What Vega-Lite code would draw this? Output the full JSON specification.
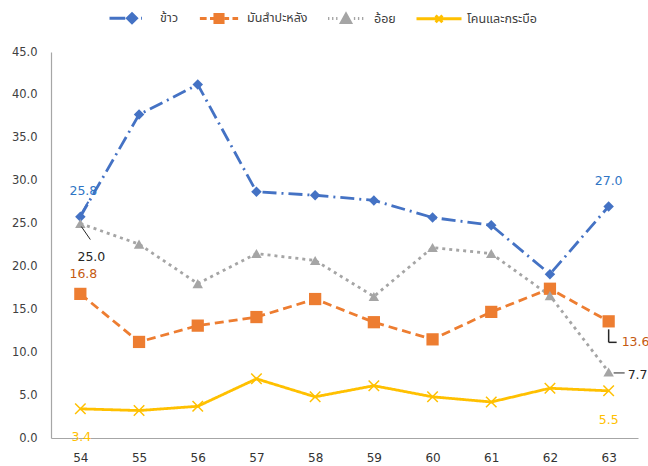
{
  "$schema": "https://vega.github.io/schema/vega-lite/v6.json",
  "autosize": {"type": "none"},
  "width": 587,
  "height": 386,
  "padding": {"left": 51, "top": 52, "right": 10, "bottom": 28},
  "background": "white",
  "config": {
    "view": {"stroke": null},
    "font": "Noto Sans Thai, Noto Sans, DejaVu Sans",
    "axis": {"grid": false, "ticks": false, "domainColor": "#A6A6A6", "domainWidth": 1.2, "labelColor": "#404040", "labelFont": "DejaVu Sans", "labelFontSize": 11.5, "title": null},
    "legend": {"orient": "none", "direction": "horizontal", "legendX": 57, "legendY": -58, "title": null, "symbolSize": 2025, "symbolOpacity": 1, "symbolStrokeWidth": 3, "labelFontSize": 12.5, "labelColor": "#404040", "labelOffset": 4, "columnPadding": 14, "padding": 0}
  },
  "data": {
    "values": [
      {"series": "ข้าว", "year": "54", "value": 25.8},
      {"series": "ข้าว", "year": "55", "value": 37.7},
      {"series": "ข้าว", "year": "56", "value": 41.2},
      {"series": "ข้าว", "year": "57", "value": 28.7},
      {"series": "ข้าว", "year": "58", "value": 28.3},
      {"series": "ข้าว", "year": "59", "value": 27.7},
      {"series": "ข้าว", "year": "60", "value": 25.7},
      {"series": "ข้าว", "year": "61", "value": 24.8},
      {"series": "ข้าว", "year": "62", "value": 19.1},
      {"series": "ข้าว", "year": "63", "value": 27.0},
      {"series": "มันสำปะหลัง", "year": "54", "value": 16.8},
      {"series": "มันสำปะหลัง", "year": "55", "value": 11.2},
      {"series": "มันสำปะหลัง", "year": "56", "value": 13.1},
      {"series": "มันสำปะหลัง", "year": "57", "value": 14.1},
      {"series": "มันสำปะหลัง", "year": "58", "value": 16.2},
      {"series": "มันสำปะหลัง", "year": "59", "value": 13.5},
      {"series": "มันสำปะหลัง", "year": "60", "value": 11.5},
      {"series": "มันสำปะหลัง", "year": "61", "value": 14.7},
      {"series": "มันสำปะหลัง", "year": "62", "value": 17.4},
      {"series": "มันสำปะหลัง", "year": "63", "value": 13.6},
      {"series": "อ้อย", "year": "54", "value": 25.0},
      {"series": "อ้อย", "year": "55", "value": 22.6},
      {"series": "อ้อย", "year": "56", "value": 18.0},
      {"series": "อ้อย", "year": "57", "value": 21.5},
      {"series": "อ้อย", "year": "58", "value": 20.7},
      {"series": "อ้อย", "year": "59", "value": 16.5},
      {"series": "อ้อย", "year": "60", "value": 22.2},
      {"series": "อ้อย", "year": "61", "value": 21.5},
      {"series": "อ้อย", "year": "62", "value": 16.6},
      {"series": "อ้อย", "year": "63", "value": 7.7},
      {"series": "โคนและกระบือ", "year": "54", "value": 3.4},
      {"series": "โคนและกระบือ", "year": "55", "value": 3.2},
      {"series": "โคนและกระบือ", "year": "56", "value": 3.7},
      {"series": "โคนและกระบือ", "year": "57", "value": 6.9},
      {"series": "โคนและกระบือ", "year": "58", "value": 4.8},
      {"series": "โคนและกระบือ", "year": "59", "value": 6.1},
      {"series": "โคนและกระบือ", "year": "60", "value": 4.8},
      {"series": "โคนและกระบือ", "year": "61", "value": 4.2},
      {"series": "โคนและกระบือ", "year": "62", "value": 5.8},
      {"series": "โคนและกระบือ", "year": "63", "value": 5.5}
    ]
  },
  "encoding": {
    "x": {"field": "year", "type": "ordinal", "scale": {"type": "point", "padding": 0.5}, "axis": {"labelAngle": 0, "labelPadding": 14, "labelFontSize": 12, "labelColor": "#333333"}},
    "y": {"field": "value", "type": "quantitative", "scale": {"domain": [0, 45], "nice": false}, "axis": {"values": [0, 5, 10, 15, 20, 25, 30, 35, 40, 45], "format": ".1f", "labelPadding": 14}}
  },
  "layer": [
    {
      "mark": {"type": "line"},
      "encoding": {
        "color": {"field": "series", "type": "nominal", "scale": {"range": ["#4472C4", "#ED7D31", "#A5A5A5", "#FFC000"]}, "legend": null},
        "strokeDash": {"field": "series", "type": "nominal", "scale": {"range": [[14, 5, 2, 5], [9, 5], [3, 4], [1, 0]]}, "legend": null},
        "strokeWidth": {"field": "series", "type": "nominal", "scale": {"range": [2.8, 2.8, 2.8, 3.2]}, "legend": null}
      }
    },
    {
      "transform": [{"filter": "datum.series === 'ข้าว'"}],
      "mark": {"type": "point", "filled": true, "opacity": 1, "size": 110, "shape": "diamond", "color": "#4472C4"},
      "encoding": {}
    },
    {
      "transform": [{"filter": "datum.series === 'มันสำปะหลัง'"}],
      "mark": {"type": "point", "filled": true, "opacity": 1, "size": 150, "shape": "square", "color": "#ED7D31"},
      "encoding": {}
    },
    {
      "transform": [{"filter": "datum.series === 'อ้อย'"}],
      "mark": {"type": "point", "filled": true, "opacity": 1, "size": 110, "shape": "triangle-up", "color": "#A5A5A5"},
      "encoding": {}
    },
    {
      "transform": [{"filter": "datum.series === 'โคนและกระบือ'"}],
      "mark": {"type": "point", "filled": false, "opacity": 1, "size": 110, "shape": "M-1,-1L1,1M-1,1L1,-1", "strokeWidth": 1.5, "color": "#FFC000"},
      "encoding": {}
    },
    {
      "transform": [{"filter": "datum.value < 0"}],
      "mark": {"type": "point", "filled": true, "strokeWidth": 3, "opacity": 1},
      "encoding": {
        "shape": {"field": "series", "type": "nominal", "scale": {"domain": ["ข้าว", "มันสำปะหลัง", "อ้อย", "โคนและกระบือ"], "range": [
          "M-1,0H-0.3M-0.2,0H-0.18M0,-0.2L0.2,0L0,0.2L-0.2,0ZM0.4,0H0.44",
          "M-0.85,0H-0.55M-0.4,0H-0.2M-0.18,-0.18H0.18V0.18H-0.18ZM0.25,0H0.45M0.6,0H0.85",
          "M-0.8,0H-0.74M-0.62,0H-0.56M-0.44,0H-0.38M-0.2,0.17L0,-0.19L0.2,0.17ZM0.35,0H0.41M0.53,0H0.59M0.71,0H0.77",
          "M-1,0H1M-0.15,-0.15L0.15,0.15M-0.15,0.15L0.15,-0.15"
        ]}},
        "fill": {"field": "series", "type": "nominal", "scale": {"domain": ["ข้าว", "มันสำปะหลัง", "อ้อย", "โคนและกระบือ"], "range": ["#4472C4", "#ED7D31", "#A5A5A5", "#FFC000"]}},
        "stroke": {"field": "series", "type": "nominal", "scale": {"domain": ["ข้าว", "มันสำปะหลัง", "อ้อย", "โคนและกระบือ"], "range": ["#4472C4", "#ED7D31", "#A5A5A5", "#FFC000"]}}
      }
    },
    {
      "transform": [{"filter": "datum.series === 'ข้าว' && datum.year === '54'"}],
      "mark": {"type": "rule", "color": "#4472C4", "strokeWidth": 2, "xOffset": 1, "x2Offset": 8, "yOffset": -3, "y2Offset": -15},
      "encoding": {"x2": {"field": "year"}, "y2": {"field": "value"}}
    },
    {
      "transform": [{"filter": "datum.series === 'อ้อย' && datum.year === '54'"}],
      "mark": {"type": "rule", "color": "#262626", "strokeWidth": 1, "xOffset": 1, "x2Offset": 10, "yOffset": 3, "y2Offset": 16},
      "encoding": {"x2": {"field": "year"}, "y2": {"field": "value"}}
    },
    {
      "transform": [{"filter": "datum.series === 'มันสำปะหลัง' && datum.year === '63'"}],
      "mark": {"type": "rule", "color": "#262626", "strokeWidth": 1.5, "xOffset": 0, "x2Offset": 0, "yOffset": 8, "y2Offset": 21},
      "encoding": {"x2": {"field": "year"}, "y2": {"field": "value"}}
    },
    {
      "transform": [{"filter": "datum.series === 'มันสำปะหลัง' && datum.year === '63'"}],
      "mark": {"type": "rule", "color": "#262626", "strokeWidth": 1.5, "xOffset": 0, "x2Offset": 8, "yOffset": 21, "y2Offset": 21},
      "encoding": {"x2": {"field": "year"}, "y2": {"field": "value"}}
    },
    {
      "transform": [{"filter": "datum.series === 'อ้อย' && datum.year === '63'"}],
      "mark": {"type": "rule", "color": "#262626", "strokeWidth": 1, "xOffset": 5, "x2Offset": 16, "yOffset": 1, "y2Offset": 1},
      "encoding": {"x2": {"field": "year"}, "y2": {"field": "value"}}
    },
    {
      "transform": [{"filter": "datum.series === 'ข้าว' && datum.year === '54'"}],
      "mark": {"type": "text", "color": "#2F75C5", "font": "DejaVu Sans", "fontSize": 12.5, "dx": 3, "dy": -26, "baseline": "middle"},
      "encoding": {"text": {"field": "value", "format": ".1f"}}
    },
    {
      "transform": [{"filter": "datum.series === 'อ้อย' && datum.year === '54'"}],
      "mark": {"type": "text", "color": "#262626", "font": "DejaVu Sans", "fontSize": 12.5, "dx": 11, "dy": 33, "baseline": "middle"},
      "encoding": {"text": {"field": "value", "format": ".1f"}}
    },
    {
      "transform": [{"filter": "datum.series === 'มันสำปะหลัง' && datum.year === '54'"}],
      "mark": {"type": "text", "color": "#C55A11", "font": "DejaVu Sans", "fontSize": 12.5, "dx": 3, "dy": -20, "baseline": "middle"},
      "encoding": {"text": {"field": "value", "format": ".1f"}}
    },
    {
      "transform": [{"filter": "datum.series === 'โคนและกระบือ' && datum.year === '54'"}],
      "mark": {"type": "text", "color": "#FFC000", "font": "DejaVu Sans", "fontSize": 12.5, "dx": 1, "dy": 28, "baseline": "middle"},
      "encoding": {"text": {"field": "value", "format": ".1f"}}
    },
    {
      "transform": [{"filter": "datum.series === 'ข้าว' && datum.year === '63'"}],
      "mark": {"type": "text", "color": "#2F75C5", "font": "DejaVu Sans", "fontSize": 12.5, "dx": 0, "dy": -25, "baseline": "middle"},
      "encoding": {"text": {"field": "value", "format": ".1f"}}
    },
    {
      "transform": [{"filter": "datum.series === 'มันสำปะหลัง' && datum.year === '63'"}],
      "mark": {"type": "text", "color": "#C55A11", "font": "DejaVu Sans", "fontSize": 12.5, "dx": 13, "dy": 21, "align": "left", "baseline": "middle"},
      "encoding": {"text": {"field": "value", "format": ".1f"}}
    },
    {
      "transform": [{"filter": "datum.series === 'อ้อย' && datum.year === '63'"}],
      "mark": {"type": "text", "color": "#262626", "font": "DejaVu Sans", "fontSize": 12.5, "dx": 19, "dy": 3, "align": "left", "baseline": "middle"},
      "encoding": {"text": {"field": "value", "format": ".1f"}}
    },
    {
      "transform": [{"filter": "datum.series === 'โคนและกระบือ' && datum.year === '63'"}],
      "mark": {"type": "text", "color": "#FFC000", "font": "DejaVu Sans", "fontSize": 12.5, "dx": 0, "dy": 29, "baseline": "middle"},
      "encoding": {"text": {"field": "value", "format": ".1f"}}
    }
  ]
}
